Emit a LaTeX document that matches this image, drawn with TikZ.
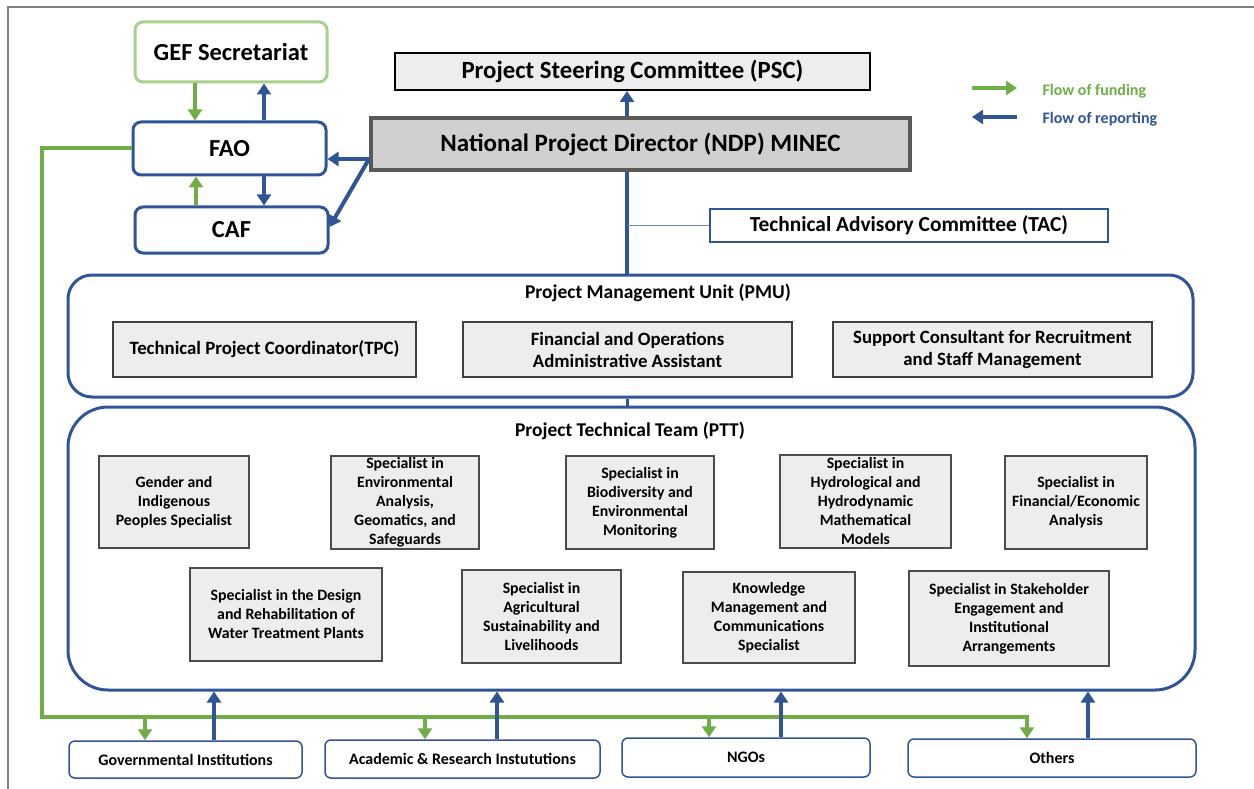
\documentclass[tikz,border=0pt]{standalone}
\usepackage{fontspec}
\setmainfont{Carlito}
\usetikzlibrary{arrows.meta}
\definecolor{dblue}{HTML}{2F5597}
\definecolor{fgreen}{HTML}{70AD47}
\definecolor{lgreen}{HTML}{A9D18E}
\definecolor{boxgray}{HTML}{EDEDED}
\definecolor{ndpgray}{HTML}{D0D0D0}
\definecolor{ndpedge}{HTML}{595959}
\definecolor{framegray}{HTML}{808080}
\tikzset{
  sz/.style n args={2}{minimum width=#1, minimum height=#2},
  topbox/.style={rounded corners=8pt, line width=3pt, fill=white, inner sep=0pt, font=\bfseries\fontsize{24.5}{28}\selectfont},
  gefbox/.style={topbox, draw=lgreen},
  faobox/.style={topbox, draw=dblue},
  pscbox/.style={draw=black, line width=2pt, fill=boxgray, inner sep=0pt, font=\bfseries\fontsize{24.8}{28}\selectfont},
  ndpbox/.style={draw=ndpedge, line width=4pt, fill=ndpgray, inner sep=0pt, font=\bfseries\fontsize{25}{28}\selectfont},
  tacbox/.style={draw=dblue, line width=1.2pt, fill=white, inner sep=0pt, font=\bfseries\fontsize{21.4}{25}\selectfont},
  unitbox/.style={draw=dblue, line width=3pt, inner sep=0pt},
  unittitle/.style={font=\bfseries\fontsize{19.5}{22}\selectfont},
  pmubox/.style={draw=black!75, line width=1.6pt, fill=boxgray, inner sep=0pt, align=center, font=\bfseries\fontsize{18.8}{22}\selectfont},
  pttbox/.style={draw=black!70, line width=1.4pt, fill=boxgray, inner xsep=2pt, inner ysep=0pt, align=center, font=\bfseries\fontsize{15.8}{19}\selectfont},
  botbox/.style={draw=dblue, line width=1.5pt, rounded corners=6pt, fill=white, inner sep=0pt, font=\bfseries\fontsize{16}{18}\selectfont},
  fund/.style={draw=fgreen, line width=4pt, -{Triangle[length=11pt,width=14pt]}},
  report/.style={draw=dblue, line width=4pt, -{Triangle[length=11pt,width=14pt]}},
  repline/.style={draw=dblue, line width=4pt},
  legtext/.style={anchor=west, font=\bfseries\fontsize{16}{18}\selectfont}
}
\begin{document}
\begin{tikzpicture}[x=1pt,y=-1pt]
\useasboundingbox (0,0) rectangle (1254,789);
% frame
\draw[framegray, line width=1.5pt] (8,789) -- (8,7) -- (1254,7);

% top nodes
\node[gefbox, sz={192pt}{60pt}] (GEF) at (231,52) {GEF Secretariat};
\node[faobox, sz={193pt}{53pt}] (FAO) at (229.5,148.5) {FAO};
\node[faobox, sz={193pt}{46pt}] (CAF) at (231.5,230) {CAF};
\node[pscbox, sz={475pt}{37pt}] (PSC) at (632.5,71.5) {Project Steering Committee (PSC)};
\node[ndpbox, sz={539pt}{52pt}] (NDP) at (640.5,144) {National Project Director (NDP) MINEC};
\node[tacbox, sz={398pt}{33pt}] (TAC) at (909,225.5) {Technical Advisory Committee (TAC)};

% legend
\coordinate (lg1) at (972,88);
\coordinate (lg2) at (1017,88);
\coordinate (lb1) at (1017,117);
\coordinate (lb2) at (972,117);
\draw[fund] (lg1) -- (lg2);
\draw[report] (lb1) -- (lb2);
\node[legtext, text=fgreen] (legf) at (1039,91) {Flow of funding};
\node[legtext, text=dblue] (legr) at (1039,119) {Flow of reporting};

% PMU
\node[unitbox, rounded corners=24pt, sz={1125pt}{122pt}] (PMU) at (630.5,336) {};
\node[unittitle] (PMUt) at (658,293) {Project Management Unit (PMU)};
\node[pmubox, sz={303pt}{55pt}] (TPC) at (264.5,349.5) {Technical Project Coordinator(TPC)};
\node[pmubox, sz={329pt}{55pt}] (FOA) at (627.5,349.5) {Financial and Operations\\Administrative Assistant};
\node[pmubox, sz={319pt}{55pt}] (SCR) at (992.5,349.5) {Support Consultant for Recruitment\\and Staff Management};

% PTT
\node[unitbox, rounded corners=40pt, sz={1127pt}{283pt}] (PTT) at (631.5,548.5) {};
\node[unittitle] (PTTt) at (630,431) {Project Technical Team (PTT)};
\node[pttbox, sz={150pt}{92pt}] (S1) at (174,502) {Gender and\\Indigenous\\Peoples Specialist};
\node[pttbox, sz={148pt}{93pt}] (S2) at (405,502.5) {Specialist in\\Environmental\\Analysis,\\Geomatics, and\\Safeguards};
\node[pttbox, sz={148pt}{93pt}] (S3) at (640,502.5) {Specialist in\\Biodiversity and\\Environmental\\Monitoring};
\node[pttbox, sz={171pt}{93pt}] (S4) at (865.5,501.5) {Specialist in\\Hydrological and\\Hydrodynamic\\Mathematical\\Models};
\node[pttbox, sz={142pt}{93pt}] (S5) at (1076,502.5) {Specialist in\\Financial/Economic\\Analysis};
\node[pttbox, sz={192pt}{93pt}] (S6) at (286,614.5) {Specialist in the Design\\and Rehabilitation of\\Water Treatment Plants};
\node[pttbox, sz={159pt}{93pt}] (S7) at (541.5,616.5) {Specialist in\\Agricultural\\Sustainability and\\Livelihoods};
\node[pttbox, sz={172pt}{91pt}] (S8) at (769,617.5) {Knowledge\\Management and\\Communications\\Specialist};
\node[pttbox, sz={200pt}{95pt}] (S9) at (1009,618.5) {Specialist in Stakeholder\\Engagement and\\Institutional\\Arrangements};

% bottom
\node[botbox, sz={233pt}{37pt}] (GOV) at (185.5,759.5) {Governmental Institutions};
\node[botbox, sz={275pt}{38pt}] (ACA) at (462.5,759) {Academic \& Research Instututions};
\node[botbox, sz={248pt}{39pt}] (NGO) at (746,757.5) {NGOs};
\node[botbox, sz={288pt}{38pt}] (OTH) at (1052,758) {Others};

% GEF / FAO / CAF arrows
\draw[fund] ([xshift=-36pt]GEF.south) -- ([xshift=-36pt]GEF.south |- FAO.north);
\draw[report] ([xshift=33pt]GEF.south |- FAO.north) -- ([xshift=33pt]GEF.south);
\draw[fund] ([xshift=-35.5pt]CAF.north) -- ([xshift=-35.5pt]CAF.north |- FAO.south);
\draw[report] ([xshift=34.5pt]FAO.south) -- ([xshift=34.5pt]FAO.south |- CAF.north);

% NDP to FAO / CAF
\coordinate (nl) at ([yshift=-15pt]NDP.west);
\draw[report] (nl) -- (nl -| FAO.east);
\draw[report] (nl) -- ([yshift=3pt]CAF.east);

% NDP to PSC, vertical spine
\draw[report] ([xshift=-13.5pt]NDP.north) -- ([xshift=-13.5pt]NDP.north |- PSC.south);
\draw[repline] ([xshift=-3.5pt]PMU.north) -- ([xshift=-3.5pt]PMU.north |- NDP.south);
\coordinate (tj) at (627,225.5);
\draw[dblue!70, line width=0.8pt] (tj) -- (TAC.west);
\draw[dblue, line width=3pt] ([xshift=-3.5pt]PMU.south) -- ([xshift=-3.5pt]PMU.south |- PTT.north);

% funding line
\coordinate (gl) at (42,717);
\coordinate (gr) at (1027,717);
\draw[fund] (FAO.west) -| (gl) -- (gr) -- (gr |- OTH.north);
\coordinate (g1) at (145,717);
\coordinate (g2) at (425,717);
\coordinate (g3) at (709,717);
\draw[fund] (g1) -- (g1 |- GOV.north);
\draw[fund] (g2) -- (g2 |- ACA.north);
\draw[fund] (g3) -- (g3 |- NGO.north);

% reporting up from stakeholders
\draw[report] ([xshift=28.5pt]GOV.north) -- ([xshift=28.5pt]GOV.north |- PTT.south);
\draw[report] ([xshift=34.5pt]ACA.north) -- ([xshift=34.5pt]ACA.north |- PTT.south);
\draw[report] ([xshift=35pt]NGO.north) -- ([xshift=35pt]NGO.north |- PTT.south);
\draw[report] ([xshift=36pt]OTH.north) -- ([xshift=36pt]OTH.north |- PTT.south);
\end{tikzpicture}
\end{document}
